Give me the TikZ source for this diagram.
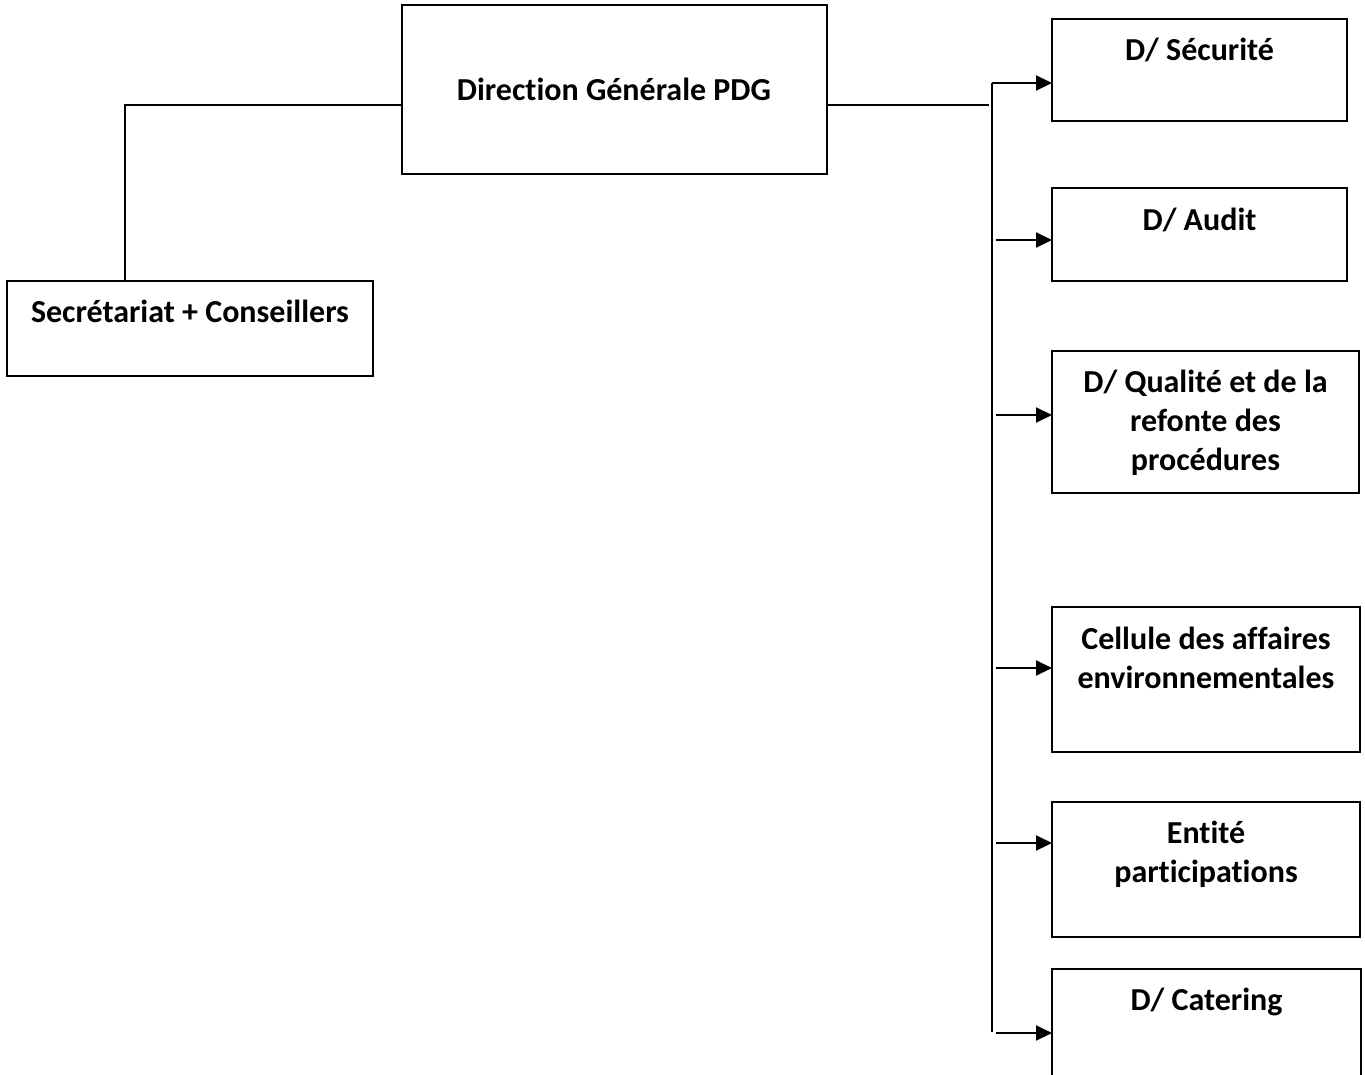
\documentclass[tikz,border=0pt]{standalone}
\usepackage{fontspec}
\setmainfont[Ligatures={NoCommon}]{Carlito}
\usetikzlibrary{arrows.meta}
\begin{document}
\begin{tikzpicture}[x=1pt,y=-1pt,
  box/.style={draw=black,line width=2pt,rectangle,inner sep=0pt,outer sep=0pt},
  txt/.style={align=center,inner sep=0pt,anchor=base,font=\fontsize{32}{39}\selectfont\bfseries},
  conn/.style={line width=2pt},
  arr/.style={line width=2pt,-{Triangle[length=16pt,width=15pt]}}]
\useasboundingbox (0,0) rectangle (1365,1074);
% boxes
\node[box,minimum width=425pt,minimum height=169pt] (dg) at (614.5,89.5) {};
\node[box,minimum width=366pt,minimum height=95pt] (sec) at (190,328.5) {};
\node[box,minimum width=295pt,minimum height=102pt] (sc) at (1199.5,70) {};
\node[box,minimum width=295pt,minimum height=93pt] (au) at (1199.5,234.5) {};
\node[box,minimum width=307pt,minimum height=142pt] (qu) at (1205.5,422) {};
\node[box,minimum width=308pt,minimum height=145pt] (ce) at (1206,679.5) {};
\node[box,minimum width=308pt,minimum height=135pt] (en) at (1206,869.5) {};
\node[box,minimum width=309pt,minimum height=122pt] (ca) at (1206.5,1030) {};
% texts (base = baseline of the last line)
\node[txt] (tdg) at (614,100) {Direction Générale PDG};
\node[txt] (tsec) at (190,322) {Secrétariat + Conseillers};
\node[txt] (tsc) at (1199.5,60) {D/ Sécurité};
\node[txt] (tau) at (1199.5,230) {D/ Audit};
\node[txt] (tqu) at (1205.5,470) {D/ Qualité et de la\\refonte des\\procédures};
\node[txt] (tce) at (1206,688) {Cellule des affaires\\environnementales};
\node[txt] (ten) at (1206,882) {Entité\\participations};
\node[txt] (tca) at (1206.5,1010) {D/ Catering};
% coordinates
\coordinate (bl) at (989,105);
\coordinate (btop) at (992,83);
\coordinate (bbot) at (992,1032);
\coordinate (s2) at (996,240);
\coordinate (s3) at (996,415);
\coordinate (s4) at (996,668);
\coordinate (s5) at (996,843);
\coordinate (s6) at (996,1033);
% connectors
\draw[conn] ([xshift=-65pt]sec.north) |- ([yshift=-15.5pt]dg.west);
\draw[conn] ([yshift=-15.5pt]dg.east) -- (bl);
\draw[conn] (bbot) -- (btop);
\draw[arr] (btop) -- (sc.west |- btop);
\draw[arr] (s2) -- (au.west |- s2);
\draw[arr] (s3) -- (qu.west |- s3);
\draw[arr] (s4) -- (ce.west |- s4);
\draw[arr] (s5) -- (en.west |- s5);
\draw[arr] (s6) -- (ca.west |- s6);
\end{tikzpicture}
\end{document}
